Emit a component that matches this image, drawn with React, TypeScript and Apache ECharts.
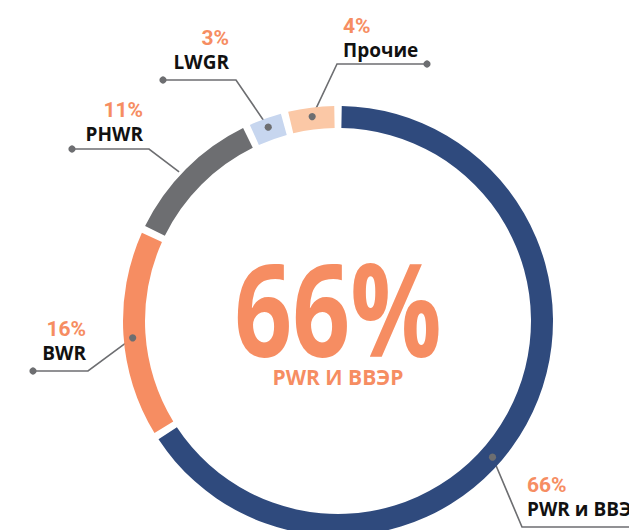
import React, { useEffect, useRef } from "react";
import * as echarts from "echarts";

// ---- data ----
const NAMES = ["PWR и ВВЭР", "BWR", "PHWR", "LWGR", "Прочие"];
const VALUES = [66, 16, 11, 3, 4];
const CENTER_VALUE = "66%";
const CENTER_LABEL = "PWR И ВВЭР";

// ---- styles / layout ----
const COLORS = ["#2F4A7D", "#F68D62", "#6D6E71", "#C7D6EF", "#FBC8A6"];
const ORANGE = "#F68D62";
const LINE = "#6D6E71";
const CX = 338;
const CY = 321;
const R_IN = 193;
const R_OUT = 215;
const PCT_FONT = "Roboto, 'Open Sans', sans-serif";
const BIG_FONT = "'Open Sans', sans-serif";
const NAME_FONT = "'Open Sans', sans-serif";

type Cfg = {
  x: number;
  y: number;
  align: "left" | "right";
  shift: number;
  r: number;
  elbow: [number, number];
  end: [number, number];
  dotStart: boolean;
  dotEnd: boolean;
};

const LABEL_CFG: Cfg[] = [
  { x: 527, y: 497, align: "left", shift: 3.5, r: 206, elbow: [522, 527], end: [650, 527], dotStart: true, dotEnd: false },
  { x: 86, y: 341, align: "right", shift: -0.3, r: 206, elbow: [88, 371], end: [33, 371], dotStart: true, dotEnd: true },
  { x: 143, y: 122, align: "right", shift: -0.5, r: 218, elbow: [149, 149], end: [72, 149], dotStart: false, dotEnd: true },
  { x: 229, y: 50, align: "right", shift: 0, r: 206, elbow: [236, 80], end: [163, 80], dotStart: true, dotEnd: true },
  { x: 343, y: 38, align: "left", shift: 0, r: 206, elbow: [337, 64], end: [427, 64], dotStart: true, dotEnd: true },
];

const TOTAL = VALUES.reduce((a, b) => a + b, 0);

function anchor(i: number): [number, number] {
  let start = 0;
  for (let k = 0; k < i; k++) start += VALUES[k];
  const mid = ((start + VALUES[i] / 2) / TOTAL) * 100 + LABEL_CFG[i].shift;
  const th = (mid / 100) * Math.PI * 2;
  const r = LABEL_CFG[i].r;
  return [CX + r * Math.sin(th), CY - r * Math.cos(th)];
}

export default function App() {
  const ref = useRef<HTMLDivElement>(null);

  useEffect(() => {
    if (!ref.current) return;
    const chart = echarts.init(ref.current, undefined, { renderer: "svg" });

    const dots: any[] = [];
    LABEL_CFG.forEach((c, i) => {
      const a = anchor(i);
      if (c.dotStart) dots.push({ type: "circle", z: 100, shape: { cx: a[0], cy: a[1], r: 3.6 }, style: { fill: LINE }, silent: true });
      if (c.dotEnd) dots.push({ type: "circle", z: 100, shape: { cx: c.end[0], cy: c.end[1], r: 3.6 }, style: { fill: LINE }, silent: true });
    });

    chart.setOption({
      animation: false,
      backgroundColor: "#ffffff",
      series: [
        {
          type: "pie",
          center: [CX, CY],
          radius: [R_IN, R_OUT],
          startAngle: 90,
          clockwise: true,
          padAngle: 2,
          avoidLabelOverlap: false,
          silent: true,
          emphasis: { disabled: true },
          data: VALUES.map((v, i) => ({
            value: v,
            name: NAMES[i],
            itemStyle: { color: COLORS[i] },
            label: { align: LABEL_CFG[i].align },
          })),
          label: {
            show: true,
            position: "outside",
            formatter: (p: any) => `{p|${VALUES[p.dataIndex]}%}\n{n|${NAMES[p.dataIndex]}}`,
            rich: {
              p: { fontFamily: PCT_FONT, fontSize: 21, fontWeight: "bold", color: ORANGE, lineHeight: 24 },
              n: { fontFamily: NAME_FONT, fontSize: 19, fontWeight: "bold", color: "#111111", lineHeight: 24 },
            },
          },
          labelLine: { show: true, lineStyle: { color: LINE, width: 1.6 } },
          labelLayout: (params: any) => {
            const i = params.dataIndex;
            const c = LABEL_CFG[i];
            return {
              x: c.x,
              y: c.y,
              align: c.align,
              verticalAlign: "middle",
              labelLinePoints: [anchor(i), c.elbow, c.end],
            };
          },
        },
      ],
      graphic: [
        {
          type: "text",
          x: CX,
          y: 306,
          z: 100,
          scaleX: 0.78,
          silent: true,
          style: {
            text: CENTER_VALUE,
            fontFamily: BIG_FONT,
            fontSize: 130,
            fontWeight: "bold",
            fill: ORANGE,
            textAlign: "center",
            textVerticalAlign: "middle",
          },
        },
        {
          type: "text",
          x: CX,
          y: 377,
          z: 100,
          silent: true,
          style: {
            text: CENTER_LABEL,
            fontFamily: NAME_FONT,
            fontSize: 21,
            fontWeight: "bold",
            fill: ORANGE,
            textAlign: "center",
            textVerticalAlign: "middle",
          },
        },
        ...dots,
      ],
    });

    return () => chart.dispose();
  }, []);

  return (
    <div
      ref={ref}
      style={{ position: "fixed", left: 0, top: 0, width: 629, height: 530, background: "#fff" }}
    />
  );
}
